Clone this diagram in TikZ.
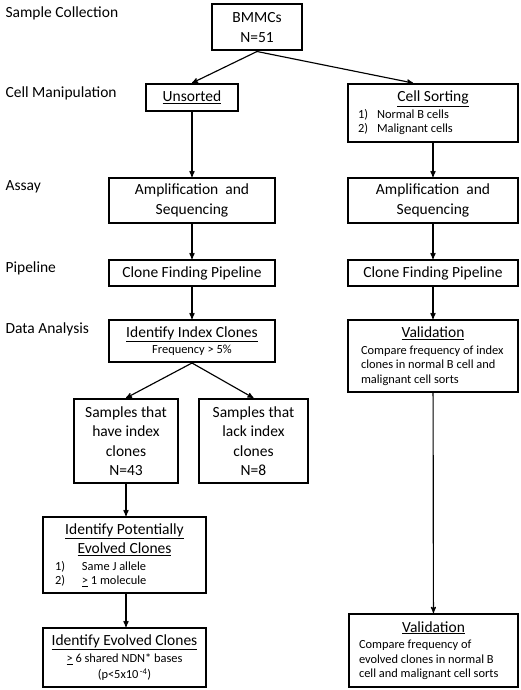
\documentclass[tikz,border=0pt]{standalone}
\usepackage{fontspec}
\setmainfont{Carlito}
\usetikzlibrary{arrows,positioning}
\newcommand{\sm}{\fontsize{12.4}{14.5}\selectfont}
\newcommand{\lrow}[2]{\makebox[#1][l]{#2}}

\begin{document}
\begin{tikzpicture}[x=1pt,y=-1pt,->,>=stealth',line width=1.15pt,
  box/.style={rectangle,draw,line width=2pt,inner sep=0pt,align=center,font=\fontsize{15.5}{19.5}\selectfont},
  stage/.style={anchor=west,inner sep=0pt,font=\fontsize{15.5}{19.5}\selectfont}]

 \useasboundingbox (0,0) rectangle (520,690);

 \node[stage] (lsample) at (5,13) {Sample Collection};
 \node[stage] (lcell) at (5,93) {Cell Manipulation};
 \node[stage] (lassay) at (5,187) {Assay};
 \node[stage] (lpipe) at (5,268) {Pipeline};
 \node[stage] (ldata) at (5,329) {Data Analysis};

 \node[box,minimum width=90,minimum height=46] (bmmc) at (257,27.5) {BMMCs\\N=51};
 \node[box,minimum width=92,minimum height=27] (unsorted) at (192,97.5) {\underline{Unsorted}};
 \node[box,minimum width=170,minimum height=58] (sorting) at (433,113)
   {\underline{Cell Sorting}\\[-3pt]{\sm\lrow{150pt}{\makebox[19pt][l]{1)}Normal B cells}}\\[-5pt]{\sm\lrow{150pt}{\makebox[19pt][l]{2)}Malignant cells}}};
 \node[box,minimum width=166,minimum height=45] (ampL) at (192,200.5) {Amplification\ \ and\\Sequencing};
 \node[box,minimum width=170,minimum height=45] (ampR) at (433,200.5) {Amplification\ \ and\\Sequencing};
 \node[box,minimum width=166,minimum height=26] (pipeL) at (192,273) {Clone Finding Pipeline};
 \node[box,minimum width=170,minimum height=26] (pipeR) at (433,273) {Clone Finding Pipeline};
 \node[box,minimum width=166,minimum height=42] (index) at (192,341) {\underline{Identify Index Clones}\\[-3pt]{\sm Frequency > 5\%}};
 \node[box,minimum width=170,minimum height=72] (valA) at (433,356)
   {\underline{Validation}\\[-3pt]{\sm\lrow{144pt}{Compare frequency of index}}\\[-5pt]{\sm\lrow{144pt}{clones in normal B cell and}}\\[-5pt]{\sm\lrow{144pt}{malignant cell sorts}}};
 \node[box,minimum width=104,minimum height=84] (have) at (126,441) {Samples that\\have index\\clones\\N=43};
 \node[box,minimum width=109,minimum height=84] (lack) at (253.5,441) {Samples that\\lack index\\clones\\N=8};
 \node[box,minimum width=163,minimum height=76] (potential) at (124.5,555)
   {\underline{Identify Potentially}\\\underline{Evolved Clones}\\[-3pt]{\sm\lrow{139pt}{\makebox[27pt][l]{1)}Same J allele}}\\[-5pt]{\sm\lrow{139pt}{\makebox[27pt][l]{2)}\underline{>} 1 molecule}}};
 \node[box,minimum width=163,minimum height=59] (evolved) at (124.5,657.5)
   {\underline{Identify Evolved Clones}\\[-2pt]{\sm\underline{>} 6 shared NDN* bases}\\[-4pt]{\sm (p<5x10\textsuperscript{\,-4})}};
 \node[box,minimum width=169,minimum height=73] (valB) at (433.5,650.5)
   {\underline{Validation}\\[-3pt]{\sm\lrow{149pt}{Compare frequency of}}\\[-5pt]{\sm\lrow{149pt}{evolved clones in normal B}}\\[-5pt]{\sm\lrow{149pt}{cell and malignant cell sorts}}};

 \path
    (bmmc.south) edge (unsorted.north)
    (bmmc.south) edge ([xshift=-20pt]sorting.north)
    (unsorted) edge (ampL)
    (sorting) edge (ampR)
    (ampL) edge (pipeL)
    (ampR) edge (pipeR)
    (pipeL) edge (index)
    (pipeR) edge (valA)
    (index.south) edge (have.north)
    (index.south) edge (lack.north)
    (have.south) edge (have.south |- potential.north)
    (have.south |- potential.south) edge (have.south |- evolved.north)
    (valA) edge (valB);

\end{tikzpicture}
\end{document}
